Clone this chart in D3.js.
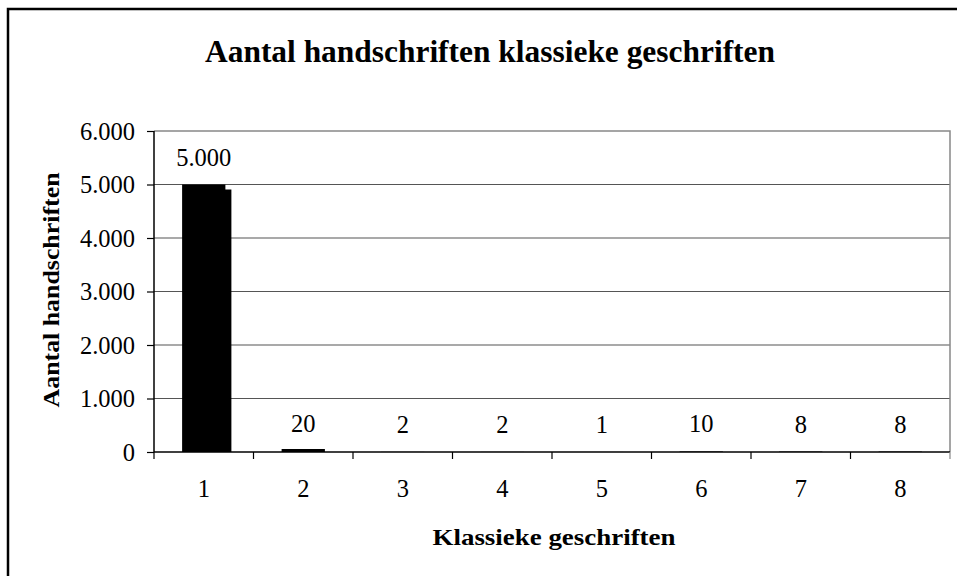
<!DOCTYPE html>
<html><head><meta charset="utf-8">
<script src="https://cdn.jsdelivr.net/npm/d3@7"></script>
<style>body{margin:0;background:#fff}svg{display:block}
text{font-family:"Liberation Serif","Times New Roman",Tinos,Times,serif;}</style>
</head><body>
<svg id="c" width="957" height="576"></svg>
<script>
const categories = ["1","2","3","4","5","6","7","8"];
const values = [5000, 20, 2, 2, 1, 10, 8, 8];
const valueLabels = ["5.000","20","2","2","1","10","8","8"];
const yTicks = [0,1000,2000,3000,4000,5000,6000];
const yTickLabels = ["0","1.000","2.000","3.000","4.000","5.000","6.000"];
const title = "Aantal handschriften klassieke geschriften";
const xTitle = "Klassieke geschriften";
const yTitle = "Aantal handschriften";

const svg = d3.select("#c");
const L = 154, R = 950, T = 131, B = 452;

svg.append("rect").attr("x",8).attr("y",9).attr("width",1000).attr("height",700)
  .attr("fill","#fff").attr("stroke","#000").attr("stroke-width",2.5);

const x = d3.scaleBand().domain(categories).range([L,R]).paddingInner(0.565).paddingOuter(0.2825);
const y = d3.scaleLinear().domain([0,6000]).range([B,T]);

svg.append("g").selectAll("line").data(yTicks.filter(d=>d>0&&d<6000)).join("line")
  .attr("x1",L).attr("x2",R).attr("y1",d=>y(d)).attr("y2",d=>y(d))
  .attr("stroke","#555").attr("stroke-width",1.2);
svg.append("path").attr("d",`M${L},${y(6000)}H${R}V${B}`).attr("fill","none")
  .attr("stroke","#888").attr("stroke-width",1.5);

const barH = d => Math.max(B - y(d), d >= 15 ? 3 : 0);
const bars = svg.append("g");
bars.selectAll("rect.sh").data(values).join("rect").attr("class","sh")
  .attr("x",(d,i)=>x(categories[i])+6).attr("width",x.bandwidth())
  .attr("y",d=>Math.min(y(d)+5,B)).attr("height",d=>B-Math.min(y(d)+5,B))
  .attr("fill","#000");
bars.selectAll("rect.b").data(values).join("rect").attr("class","b")
  .attr("x",(d,i)=>x(categories[i])).attr("width",x.bandwidth())
  .attr("y",d=>B-barH(d)).attr("height",d=>barH(d))
  .attr("fill","#000");

const yAxis = d3.axisLeft(y).tickValues(yTicks).tickFormat((d,i)=>yTickLabels[i]).tickSize(7).tickPadding(12);
const gy = svg.append("g").attr("transform",`translate(${L},0)`).call(yAxis);
gy.attr("font-family",null).attr("font-size",null);
gy.select(".domain").attr("stroke","#000").attr("stroke-width",1.5).attr("d",`M0,${T}V${B}`);
gy.selectAll(".tick line").attr("stroke","#000").attr("stroke-width",1.2);
gy.selectAll("text").attr("font-size",24.5).attr("fill","#000").attr("dy","0.34em");

const xs = d3.scaleLinear().domain([0,8]).range([L,R]);
const gx = svg.append("g").attr("transform",`translate(0,${B})`);
gx.append("line").attr("x1",L).attr("x2",R).attr("stroke","#000").attr("stroke-width",1.5);
gx.selectAll("line.t").data(d3.range(0,9)).join("line").attr("class","t")
  .attr("x1",d=>xs(d)).attr("x2",d=>xs(d)).attr("y1",0).attr("y2",7)
  .attr("stroke",(d,i)=>i==8?"#888":"#000").attr("stroke-width",1.2);
gx.selectAll("text").data(categories).join("text")
  .attr("x",d=>x(d)+x.bandwidth()/2).attr("y",45).attr("text-anchor","middle")
  .attr("font-size",24.5).text(d=>d);

svg.append("g").selectAll("text").data(values).join("text")
  .attr("x",(d,i)=>x(categories[i])+x.bandwidth()/2).attr("y",d=>y(d)-19)
  .attr("text-anchor","middle").attr("font-size",24.5)
  .text((d,i)=>valueLabels[i]);

svg.append("text").attr("x",490).attr("y",62).attr("text-anchor","middle")
  .attr("font-weight","bold").attr("font-size",32)
  .attr("textLength",570).attr("lengthAdjust","spacingAndGlyphs").text(title);
svg.append("text").attr("x",554).attr("y",545).attr("text-anchor","middle")
  .attr("font-weight","bold").attr("font-size",24)
  .attr("textLength",243).attr("lengthAdjust","spacingAndGlyphs").text(xTitle);
svg.append("text").attr("transform","translate(59,290) rotate(-90)").attr("text-anchor","middle")
  .attr("font-weight","bold").attr("font-size",24)
  .attr("textLength",235).attr("lengthAdjust","spacingAndGlyphs").text(yTitle);
</script>
</body></html>
